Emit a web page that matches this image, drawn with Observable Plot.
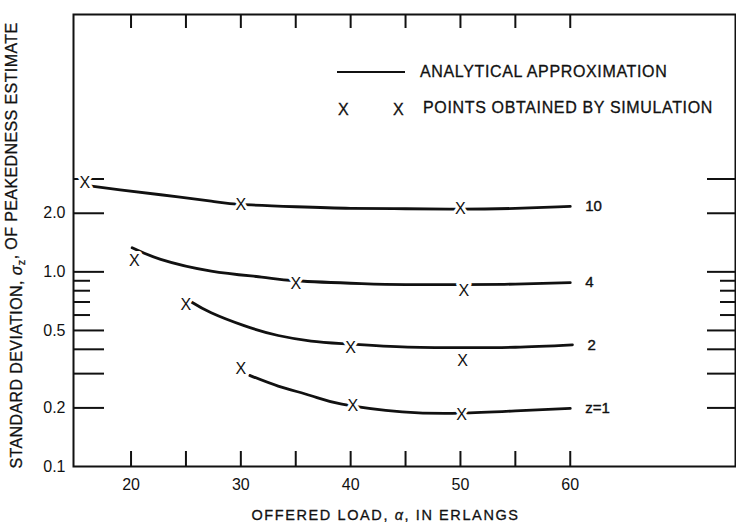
<!DOCTYPE html>
<html><head><meta charset="utf-8">
<script src="https://cdn.jsdelivr.net/npm/d3@7"></script>
<script src="https://cdn.jsdelivr.net/npm/@observablehq/plot@0.6"></script>
<style>
body{margin:0;background:#fff;}
#wrap{position:relative;width:736px;height:522px;font-family:"Liberation Sans",Arial,sans-serif;color:#111;}
.lg{position:absolute;font-size:16px;line-height:16px;letter-spacing:0.65px;white-space:nowrap;-webkit-text-stroke:0.3px #111;}
.lgline{position:absolute;border-top:2.6px solid #111;}
</style></head><body><div id="wrap"></div>
<script>
// ---- data ----
const xLabelTicks = [20, 30, 40, 50, 60];
const xMarkTicks = [20, 25, 30, 35, 40, 45, 50, 55, 60];
const yLabelTicks = [0.1, 0.2, 0.5, 1, 2];
const yLongTicks = [0.2, 0.3, 0.4, 0.5, 1, 2, 3];
const yShortTicks = [0.6, 0.7, 0.8, 0.9];

const seriesNames = ["10", "4", "2", "z=1"];

// analytical approximation curves (alpha, sigma)
const curveAlpha10 = [16.4, 19, 22.7, 27.3, 30, 35, 40, 45, 50, 55, 60];
const curveSigma10 = [2.76, 2.64, 2.49, 2.31, 2.22, 2.16, 2.12, 2.11, 2.10, 2.12, 2.17];
const curveAlpha4 = [20.1, 22.7, 27.3, 31.9, 35, 41, 45, 50, 55, 60];
const curveSigma4 = [1.33, 1.16, 1.01, 0.94, 0.90, 0.87, 0.86, 0.86, 0.865, 0.88];
const curveAlpha2 = [25.5, 27.3, 30.3, 33.4, 36.4, 39.2, 44.7, 50, 55, 60.2];
const curveSigma2 = [0.70, 0.616, 0.529, 0.471, 0.441, 0.428, 0.412, 0.408, 0.41, 0.422];
const curveAlpha1 = [30.8, 33.4, 36.4, 39.2, 44.7, 50, 55, 60];
const curveSigma1 = [0.294, 0.259, 0.231, 0.209, 0.191, 0.188, 0.193, 0.199];

// points obtained by simulation
const simAlpha10 = [15.8, 30, 50];
const simSigma10 = [2.86, 2.21, 2.10];
const simAlpha4 = [20.3, 35, 50.3];
const simSigma4 = [1.14, 0.87, 0.80];
const simAlpha2 = [25, 40, 50.2];
const simSigma2 = [0.68, 0.408, 0.35];
const simAlpha1 = [30, 40.2, 50.1];
const simSigma1 = [0.318, 0.206, 0.185];

const xTitle = "OFFERED LOAD, α, IN ERLANGS";
const yTitle = "STANDARD DEVIATION, σz, OF PEAKEDNESS ESTIMATE";
const legendLine = "ANALYTICAL APPROXIMATION";
const legendPoints = "POINTS OBTAINED BY SIMULATION";

// ---- tables ----
const curveSets = [[curveAlpha10, curveSigma10], [curveAlpha4, curveSigma4], [curveAlpha2, curveSigma2], [curveAlpha1, curveSigma1]];
const simSets = [[simAlpha10, simSigma10], [simAlpha4, simSigma4], [simAlpha2, simSigma2], [simAlpha1, simSigma1]];
const curves = curveSets.flatMap(([a, s], k) => a.map((v, i) => ({series: seriesNames[k], alpha: v, sigma: s[i]})));
const sims = simSets.flatMap(([a, s], k) => a.map((v, i) => ({series: seriesNames[k], alpha: v, sigma: s[i]})));
const ends = curveSets.map(([a, s], k) => ({series: seriesNames[k], alpha: a[a.length - 1], sigma: s[s.length - 1]}));

const W = 736, Hh = 522, mL = 73, mR = 1, mT = 14, mB = 56;
const iw = W - mL - mR, ih = Hh - mT - mB;
const font = "Liberation Sans, Arial, sans-serif";
const ink = "#111";

const chart = Plot.plot({
  width: W, height: Hh,
  marginLeft: mL, marginRight: mR, marginTop: mT, marginBottom: mB,
  style: {fontFamily: font, fontSize: "16px", color: ink, background: "#fff"},
  x: {domain: [14.76, 75.05]},
  y: {type: "log", domain: [0.1, 21]},
  marks: [
    Plot.frame({stroke: ink, strokeWidth: 2}),
    Plot.tickX(xMarkTicks, {x: d => d, insetTop: ih - 15, strokeWidth: 2, stroke: ink}),
    Plot.tickX(xMarkTicks, {x: d => d, insetBottom: ih - 14, strokeWidth: 2, stroke: ink}),
    Plot.tickY(yLongTicks, {y: d => d, insetRight: iw - 31, strokeWidth: 2, stroke: ink}),
    Plot.tickY(yShortTicks, {y: d => d, insetRight: iw - 17, strokeWidth: 2, stroke: ink}),
    Plot.tickY(yLongTicks, {y: d => d, insetLeft: iw - 28, strokeWidth: 2, stroke: ink}),
    Plot.tickY(yShortTicks, {y: d => d, insetLeft: iw - 15, strokeWidth: 2, stroke: ink}),
    Plot.line(curves, {x: "alpha", y: "sigma", z: "series", curve: "natural", stroke: ink, strokeWidth: 2.8}),
    Plot.text(sims, {x: "alpha", y: "sigma", text: () => "X", fontSize: 16, fill: ink, stroke: "white", strokeWidth: 6}),
    Plot.text(ends, {x: "alpha", y: "sigma", text: "series", dx: 15, textAnchor: "start", fontSize: 15, fill: ink, stroke: ink, strokeWidth: 0.4}),
    Plot.axisX({ticks: xLabelTicks, tickSize: 0, tickPadding: 12, label: null, fontSize: 16, stroke: ink, strokeWidth: 0.4}),
    Plot.axisY({ticks: yLabelTicks, tickSize: 0, tickPadding: 8, tickFormat: d3.format(".1f"), label: null, fontSize: 16, stroke: ink, strokeWidth: 0.4}),
    Plot.text([xTitle], {text: d => d, frameAnchor: "bottom", textAnchor: "middle", lineAnchor: "middle", dx: -19, dy: 49, fontSize: 14.5, fill: ink, stroke: ink, strokeWidth: 0.3}),
    Plot.text([yTitle], {text: d => d, frameAnchor: "left", textAnchor: "middle", lineAnchor: "middle", rotate: -90, dx: -57, dy: 5, fontSize: 16, fill: ink, stroke: ink, strokeWidth: 0.3})
  ]
});

// subscript z in the y title, italic greek letters, letter spacing
d3.select(chart).selectAll("text").filter(function() { return this.textContent === yTitle; })
  .each(function() {
    const t = d3.select(this).attr("text-anchor", "middle").attr("letter-spacing", "0.4px");
    t.text(null);
    t.append("tspan").text("STANDARD DEVIATION, ");
    t.append("tspan").attr("font-style", "italic").text("σ");
    t.append("tspan").attr("font-size", "11px").attr("dy", "0.35em").text("z");
    t.append("tspan").attr("dy", "-0.55em").text(", OF PEAKEDNESS ESTIMATE");
  });
d3.select(chart).selectAll("text").filter(function() { return this.textContent === xTitle; })
  .each(function() {
    const t = d3.select(this).attr("text-anchor", "middle").attr("letter-spacing", "1.6px");
    t.text(null);
    t.append("tspan").text("OFFERED LOAD, ");
    t.append("tspan").attr("font-style", "italic").text("α");
    t.append("tspan").text(", IN ERLANGS");
  });

const wrap = document.getElementById("wrap");
wrap.appendChild(chart);

// legend overlay
function add(cls, css, txt) {
  const d = document.createElement("div");
  d.className = cls; Object.assign(d.style, css); if (txt) d.textContent = txt; wrap.appendChild(d); return d;
}
add("lgline", {left: "337px", top: "71px", width: "68px"});
add("lg", {left: "420px", top: "64px"}, legendLine);
add("lg", {left: "338px", top: "102px"}, "X");
add("lg", {left: "393px", top: "102px"}, "X");
add("lg", {left: "423px", top: "100px"}, legendPoints);
</script></body></html>
